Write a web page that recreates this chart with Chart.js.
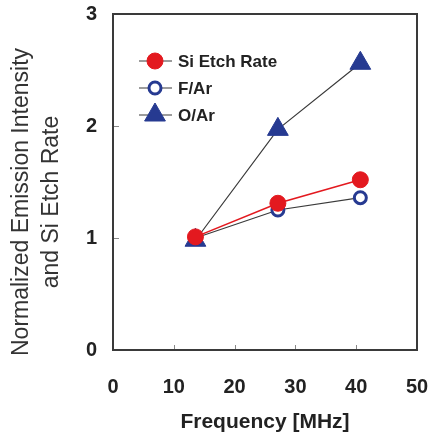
<!DOCTYPE html>
<html>
<head>
<meta charset="utf-8">
<script src="https://cdn.jsdelivr.net/npm/chart.js@4"></script>
<style>
  html, body { margin: 0; padding: 0; background: #fff; }
  #wrap { width: 434px; height: 433px; }
</style>
</head>
<body>
<div id="wrap"><canvas id="grafica"></canvas></div>
<script>
// datos
const frecuencias = [13.56, 27.12, 40.68];
const siEtchRate = [1.01, 1.31, 1.52];
const fAr = [1.0, 1.25, 1.36];
const oAr = [0.98, 1.97, 2.56];
const ticksX = [0, 10, 20, 30, 40, 50];
const ticksY = [0, 1, 2, 3];
const tituloY = ['Normalized Emission Intensity', 'and Si Etch Rate'];

const ROJO = '#e3191f';
const AZUL = '#263a91';
const GRIS = '#3a3a3a';
const FUENTE = '"Liberation Sans", Arial, sans-serif';

function puntos(ys) {
  return frecuencias.map((x, i) => ({ x: x, y: ys[i] }));
}

// marco, marcas interiores y titulo del eje y
const marco = {
  id: 'marco',
  afterDatasetsDraw(chart) {
    const { ctx, chartArea: a, scales } = chart;
    ctx.save();
    ctx.strokeStyle = '#888';
    ctx.lineWidth = 1;
    for (const v of [10, 20, 30, 40]) {
      const px = Math.round(scales.x.getPixelForValue(v)) + 0.5;
      ctx.beginPath();
      ctx.moveTo(px, a.bottom);
      ctx.lineTo(px, a.bottom - 5);
      ctx.stroke();
    }
    for (const v of [1, 2]) {
      const py = Math.round(scales.y.getPixelForValue(v)) + 0.5;
      ctx.beginPath();
      ctx.moveTo(a.left, py);
      ctx.lineTo(a.left + 6, py);
      ctx.stroke();
    }
    ctx.strokeStyle = GRIS;
    ctx.lineWidth = 2;
    ctx.strokeRect(a.left, a.top, a.right - a.left, a.bottom - a.top);

    ctx.fillStyle = '#333';
    ctx.font = '23px ' + FUENTE;
    ctx.textAlign = 'center';
    ctx.textBaseline = 'middle';
    tituloY.forEach((t, i) => {
      ctx.save();
      ctx.translate(22 + i * 30, 202);
      ctx.rotate(-Math.PI / 2);
      ctx.fillText(t, 0, 0);
      ctx.restore();
    });
    ctx.restore();
  }
};

// leyenda dentro del area
const leyenda = {
  id: 'leyenda',
  afterDraw(chart) {
    const { ctx } = chart;
    const filas = [61, 88, 115];
    ctx.save();
    chart.data.datasets.forEach((ds, i) => {
      const y = filas[i];
      ctx.strokeStyle = GRIS;
      ctx.lineWidth = 1.2;
      ctx.beginPath();
      ctx.moveTo(139, y);
      ctx.lineTo(172, y);
      ctx.stroke();
      ctx.fillStyle = ds.pointBackgroundColor;
      ctx.strokeStyle = ds.pointBorderColor;
      ctx.lineWidth = ds.pointBorderWidth;
      const r = ds.pointRadius;
      ctx.beginPath();
      if (ds.pointStyle === 'triangle') {
        ctx.moveTo(155, y - r);
        ctx.lineTo(155 + r * 0.866, y + r * 0.5);
        ctx.lineTo(155 - r * 0.866, y + r * 0.5);
        ctx.closePath();
      } else {
        ctx.arc(155, y, r, 0, Math.PI * 2);
      }
      ctx.fill();
      ctx.stroke();
      ctx.fillStyle = '#222';
      ctx.font = 'bold 17px ' + FUENTE;
      ctx.textAlign = 'left';
      ctx.textBaseline = 'middle';
      ctx.fillText(ds.label, 178, y + 1);
    });
    ctx.restore();
  }
};

new Chart(document.getElementById('grafica'), {
  type: 'scatter',
  data: {
    datasets: [{
      label: 'Si Etch Rate',
      data: puntos(siEtchRate),
      showLine: true,
      borderColor: ROJO,
      borderWidth: 1.6,
      pointStyle: 'circle',
      pointRadius: 8,
      pointBackgroundColor: ROJO,
      pointBorderColor: ROJO,
      pointBorderWidth: 1
    }, {
      label: 'F/Ar',
      data: puntos(fAr),
      showLine: true,
      borderColor: GRIS,
      borderWidth: 1.2,
      pointStyle: 'circle',
      pointRadius: 6,
      pointBackgroundColor: '#fff',
      pointBorderColor: AZUL,
      pointBorderWidth: 3
    }, {
      label: 'O/Ar',
      data: puntos(oAr),
      showLine: true,
      borderColor: GRIS,
      borderWidth: 1.2,
      pointStyle: 'triangle',
      pointRadius: 12,
      pointBackgroundColor: AZUL,
      pointBorderColor: AZUL,
      pointBorderWidth: 1
    }]
  },
  options: {
    responsive: true,
    maintainAspectRatio: false,
    animation: false,
    layout: { padding: { top: 14, right: 17, left: 4, bottom: 0 } },
    plugins: {
      legend: { display: false },
      tooltip: { enabled: false }
    },
    scales: {
      x: {
        type: 'linear',
        min: 0,
        max: 50,
        afterBuildTicks: (s) => { s.ticks = ticksX.map(v => ({ value: v })); },
        afterFit: (s) => { s.height = 83; s.paddingLeft = 0; s.paddingRight = 0; },
        grid: { display: false },
        border: { display: false },
        ticks: {
          padding: 17,
          color: '#222',
          font: { family: FUENTE, size: 20, weight: 'bold' }
        },
        title: {
          display: true,
          text: 'Frequency [MHz]',
          color: '#222',
          padding: { top: 2, bottom: 0 },
          font: { family: FUENTE, size: 21, weight: 'bold', lineHeight: 1 }
        }
      },
      y: {
        type: 'linear',
        min: 0,
        max: 3,
        afterBuildTicks: (s) => { s.ticks = ticksY.map(v => ({ value: v })); },
        afterFit: (s) => { s.width = 109; s.paddingTop = 0; s.paddingBottom = 0; },
        grid: { display: false },
        border: { display: false },
        ticks: {
          padding: 8,
          color: '#222',
          font: { family: FUENTE, size: 20, weight: 'bold' }
        }
      }
    }
  },
  plugins: [marco, leyenda]
});
</script>
</body>
</html>
